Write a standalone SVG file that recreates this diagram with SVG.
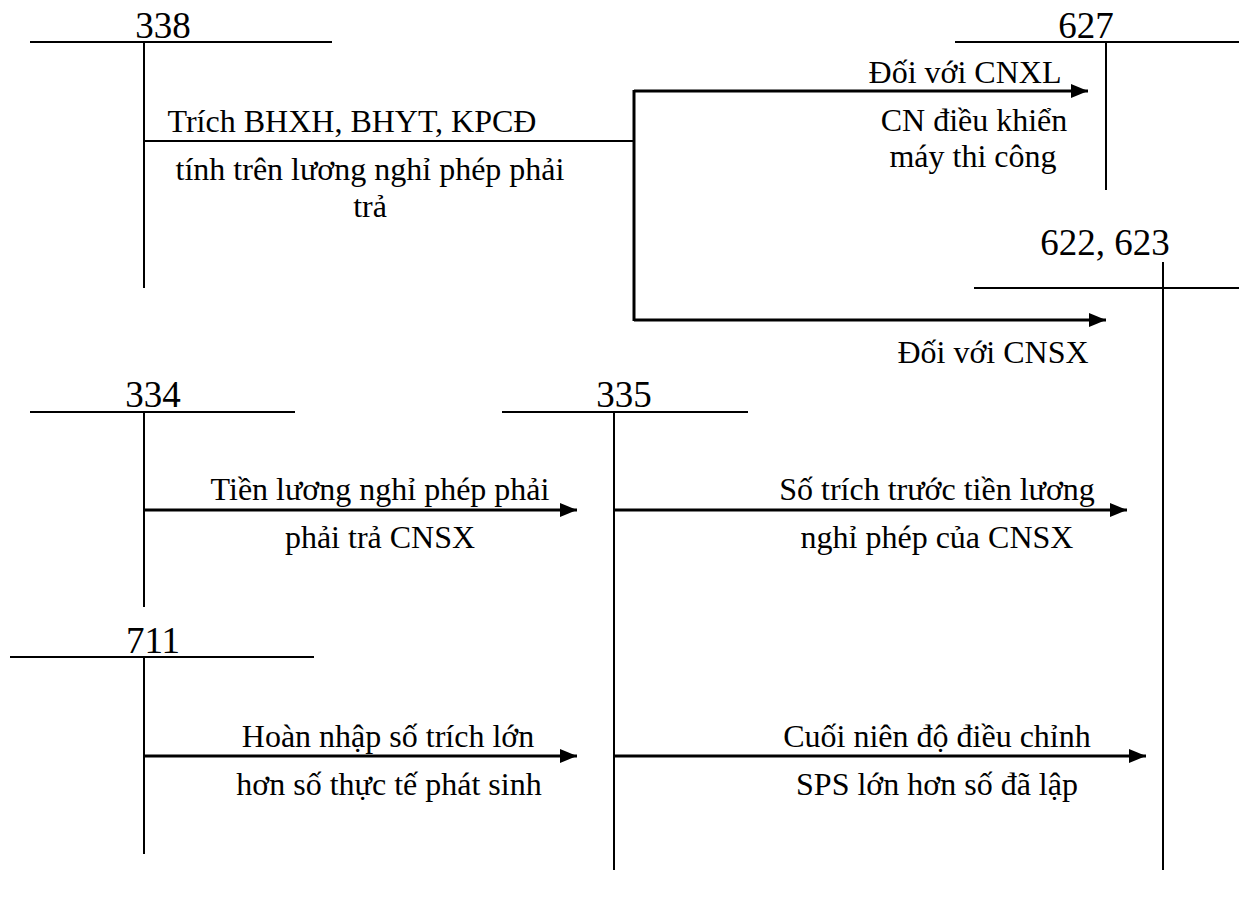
<svg xmlns="http://www.w3.org/2000/svg" width="1251" height="897" viewBox="0 0 1251 897">
<style>
text{font-family:"Liberation Serif","Times New Roman",serif;font-size:32px;fill:#000}
.num{font-size:37px}
.mid{text-anchor:middle}
.acc{stroke:#000;stroke-width:2;fill:none}
.conn{stroke:#000;stroke-width:3;fill:none}
.thin{stroke:#000;stroke-width:2;fill:none}
</style>
<defs>
<marker id="arr" markerUnits="userSpaceOnUse" markerWidth="18" markerHeight="15" refX="17" refY="7" orient="auto">
<path d="M0,0 L17,7 L0,14 z" fill="#000"/>
</marker>
</defs>
<rect width="1251" height="897" fill="#fff"/>
<g id="acc-338">
<line class="acc" x1="30" y1="42" x2="332" y2="42"/>
<line class="acc" x1="144" y1="42" x2="144" y2="288"/>
<text class="mid num" x="163" y="38">338</text>
</g>
<g id="acc-627">
<line class="acc" x1="955" y1="42" x2="1239" y2="42"/>
<line class="acc" x1="1106" y1="42" x2="1106" y2="190"/>
<text class="mid num" x="1086" y="38">627</text>
</g>
<g id="acc-622-623">
<line class="acc" x1="974" y1="288" x2="1239" y2="288"/>
<line class="acc" x1="1163" y1="262" x2="1163" y2="870"/>
<text class="mid num" x="1105" y="255">622, 623</text>
</g>
<g id="acc-334">
<line class="acc" x1="30" y1="412" x2="295" y2="412"/>
<line class="acc" x1="144" y1="412" x2="144" y2="607"/>
<text class="mid num" x="153" y="407">334</text>
</g>
<g id="acc-335">
<line class="acc" x1="502" y1="412" x2="748" y2="412"/>
<line class="acc" x1="614" y1="412" x2="614" y2="870"/>
<text class="mid num" x="624" y="407">335</text>
</g>
<g id="acc-711">
<line class="acc" x1="10" y1="657" x2="314" y2="657"/>
<line class="acc" x1="144" y1="657" x2="144" y2="854"/>
<text class="mid num" x="153" y="653">711</text>
</g>
<g id="connectors">
<line class="thin" x1="144" y1="141" x2="634" y2="141"/>
<line class="conn" x1="634" y1="90" x2="634" y2="321"/>
<line class="conn" x1="634" y1="91" x2="1088" y2="91" marker-end="url(#arr)"/>
<line class="conn" x1="634" y1="320" x2="1106" y2="320" marker-end="url(#arr)"/>
<line class="conn" x1="144" y1="510" x2="577" y2="510" marker-end="url(#arr)"/>
<line class="conn" x1="614" y1="510" x2="1127" y2="510" marker-end="url(#arr)"/>
<line class="conn" x1="144" y1="756" x2="577" y2="756" marker-end="url(#arr)"/>
<line class="conn" x1="614" y1="756" x2="1146" y2="756" marker-end="url(#arr)"/>
</g>
<g id="labels">
<text class="mid" x="352" y="132">Trích BHXH, BHYT, KPCĐ</text>
<text class="mid" x="370" y="180">tính trên lương nghỉ phép phải</text>
<text class="mid" x="370" y="217">trả</text>
<text class="mid" x="965" y="83">Đối với CNXL</text>
<text class="mid" x="974" y="131">CN điều khiển</text>
<text class="mid" x="973" y="167">máy thi công</text>
<text class="mid" x="993" y="363">Đối với CNSX</text>
<text class="mid" x="380" y="500">Tiền lương nghỉ phép phải</text>
<text class="mid" x="380" y="548">phải trả CNSX</text>
<text class="mid" x="937" y="500">Số trích trước tiền lương</text>
<text class="mid" x="937" y="548">nghỉ phép của CNSX</text>
<text class="mid" x="388" y="747">Hoàn nhập số trích lớn</text>
<text class="mid" x="389" y="795">hơn số thực tế phát sinh</text>
<text class="mid" x="937" y="747">Cuối niên độ điều chỉnh</text>
<text class="mid" x="937" y="795">SPS lớn hơn số đã lập</text>
</g>
</svg>
